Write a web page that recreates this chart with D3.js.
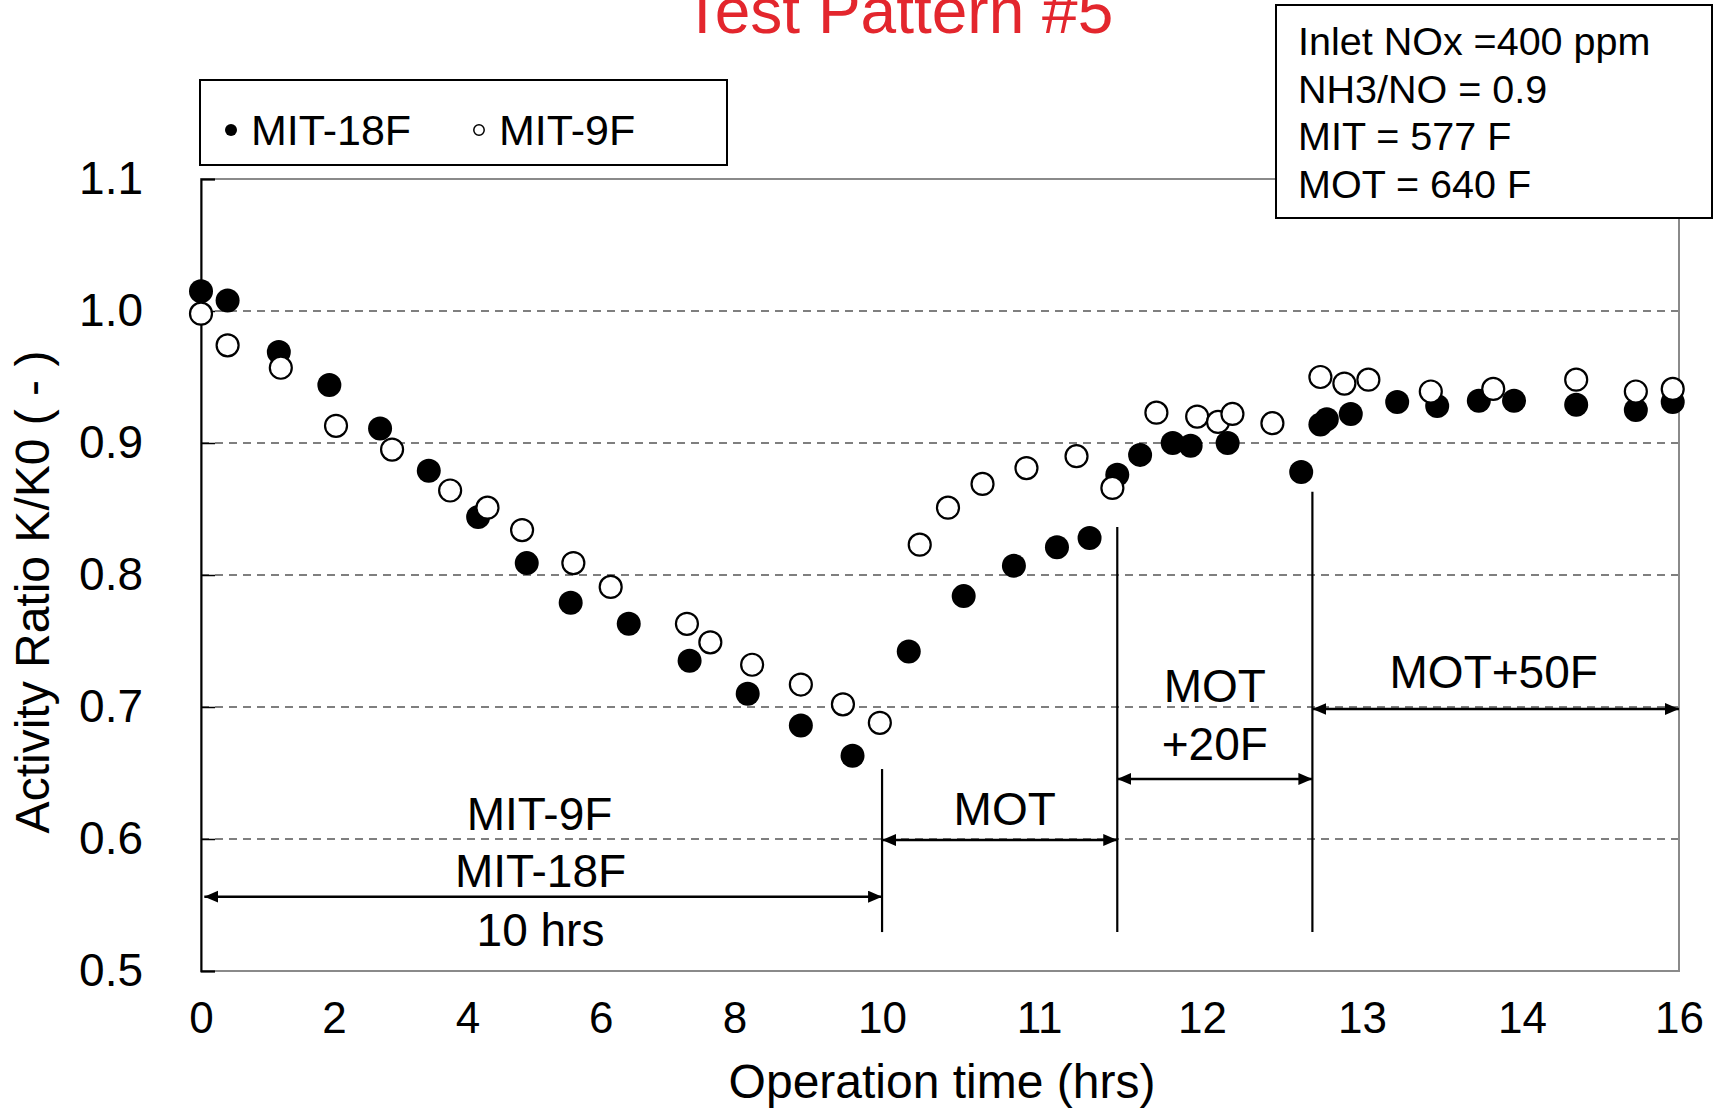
<!DOCTYPE html>
<html lang="en">
<head>
  <meta charset="UTF-8">
  <title>Test Pattern #5</title>
  <script src="https://d3js.org/d3.v7.min.js"></script>
  <style>
    body {
      margin: 0;
      padding: 0;
      background: #fff;
    }
    svg text {
      font-family: "Liberation Sans", Arial, sans-serif;
      fill: #000;
    }
  </style>
</head>
<body>
  <div id="chart"></div>

  <script>
    // MIT-18F (filled circles)
    const hours18 = [0.0, 0.40, 1.17, 1.93, 2.69, 3.42, 4.16, 4.89, 5.55, 6.42, 7.33, 8.18, 8.90, 9.60,
      10.17, 10.52, 10.84, 11.11, 11.31, 11.48, 11.62, 11.82, 11.93, 12.16, 12.62, 12.74, 12.78, 12.93,
      13.22, 13.47, 13.73, 13.95, 14.69, 15.45, 15.92];
    const ratio18 = [1.015, 1.008, 0.969, 0.944, 0.911, 0.879, 0.844, 0.809, 0.779, 0.763, 0.735, 0.710, 0.686, 0.663,
      0.742, 0.784, 0.807, 0.821, 0.828, 0.876, 0.891, 0.900, 0.898, 0.900, 0.878, 0.914, 0.918, 0.922,
      0.931, 0.928, 0.932, 0.932, 0.929, 0.925, 0.931];

    // MIT-9F (open circles)
    const hours9 = [0.0, 0.40, 1.20, 2.03, 2.87, 3.74, 4.30, 4.82, 5.59, 6.15, 7.29, 7.64, 8.24, 8.90, 9.47, 9.97,
      10.24, 10.42, 10.64, 10.92, 11.23, 11.45, 11.72, 11.97, 12.10, 12.19, 12.44, 12.74, 12.89, 13.04,
      13.43, 13.82, 14.69, 15.45, 15.92];
    const ratio9 = [0.998, 0.974, 0.957, 0.913, 0.895, 0.864, 0.851, 0.834, 0.809, 0.791, 0.763, 0.749, 0.732, 0.717, 0.702, 0.688,
      0.823, 0.851, 0.869, 0.881, 0.890, 0.866, 0.923, 0.920, 0.916, 0.922, 0.915, 0.950, 0.945, 0.948,
      0.939, 0.941, 0.948, 0.939, 0.941];

    const xTicks = [0, 2, 4, 6, 8, 10, 11, 12, 13, 14, 16];
    const yTicks = [0.5, 0.6, 0.7, 0.8, 0.9, 1.0, 1.1];
    const gridValues = [0.6, 0.7, 0.8, 0.9, 1.0];

    const phaseBounds = [0, 10, 11.48, 12.69, 16];
    const conditions = ["Inlet NOx =400 ppm", "NH3/NO = 0.9", "MIT = 577 F", "MOT = 640 F"];

    // the hour axis is not uniform: fraction of plot width at each tick
    const xTickFrac = [0, 0.090, 0.1803, 0.2704, 0.3609, 0.4608, 0.567, 0.6773, 0.7855, 0.8938, 1];

    const W = 1724, H = 1108;
    const margin = { top: 179, right: 45, bottom: 137, left: 201 };
    const width = W - margin.left - margin.right;
    const height = H - margin.top - margin.bottom;

    const root = d3.select("#chart").append("svg")
      .attr("width", W)
      .attr("height", H);

    const defs = root.append("defs");
    defs.append("marker")
      .attr("id", "head")
      .attr("markerUnits", "userSpaceOnUse")
      .attr("markerWidth", 16)
      .attr("markerHeight", 14)
      .attr("refX", 14)
      .attr("refY", 6)
      .attr("orient", "auto-start-reverse")
      .append("path")
      .attr("d", "M0,0 L14,6 L0,12 Z")
      .attr("fill", "#000");

    const svg = root.append("g")
      .attr("transform", `translate(${margin.left},${margin.top})`);

    const x = d3.scaleLinear()
      .domain(xTicks)
      .range(xTickFrac.map(f => f * width));

    const y = d3.scaleLinear()
      .domain([0.5, 1.1])
      .range([height, 0]);

    // grid
    svg.selectAll(".grid")
      .data(gridValues)
      .join("line")
      .attr("x1", 0)
      .attr("x2", width)
      .attr("y1", d => y(d))
      .attr("y2", d => y(d))
      .attr("stroke", "#555")
      .attr("stroke-width", 1.3)
      .attr("stroke-dasharray", "8,6");

    // frame
    svg.append("rect")
      .attr("width", width)
      .attr("height", height)
      .attr("fill", "none")
      .attr("stroke", "#8a8a8a")
      .attr("stroke-width", 2);

    // y axis
    const yAxis = svg.append("g")
      .call(d3.axisLeft(y)
        .tickValues(yTicks)
        .tickFormat(d3.format(".1f"))
        .tickSize(-14)
        .tickPadding(58));
    yAxis.select(".domain").attr("stroke", "#000").attr("stroke-width", 2);
    yAxis.selectAll(".tick line").attr("stroke", "#000").attr("stroke-width", 1.5);
    yAxis.selectAll("text").style("font-size", "46px");

    // x axis
    const xAxis = svg.append("g")
      .attr("transform", `translate(0,${height})`)
      .call(d3.axisBottom(x)
        .tickValues(xTicks)
        .tickFormat(d3.format("d"))
        .tickSize(0)
        .tickPadding(31));
    xAxis.select(".domain").remove();
    xAxis.selectAll("text").style("font-size", "44px");

    // axis titles
    root.append("text")
      .attr("x", 942)
      .attr("y", 1098)
      .attr("text-anchor", "middle")
      .style("font-size", "48px")
      .text("Operation time (hrs)");

    root.append("text")
      .attr("transform", "translate(49,592) rotate(-90)")
      .attr("text-anchor", "middle")
      .style("font-size", "48px")
      .text("Activity Ratio K/K0 ( - )");

    // phase boundaries
    const vlines = [
      { h: phaseBounds[1], top: 0.653 },
      { h: phaseBounds[2], top: 0.8364 },
      { h: phaseBounds[3], top: 0.863 }
    ];
    svg.selectAll(".vline")
      .data(vlines)
      .join("line")
      .attr("x1", d => x(d.h))
      .attr("x2", d => x(d.h))
      .attr("y1", d => y(d.top))
      .attr("y2", y(0.5295))
      .attr("stroke", "#000")
      .attr("stroke-width", 2.2);

    // phase arrows
    const arrows = [
      { from: 0.05, to: phaseBounds[1], at: 0.5563 },
      { from: phaseBounds[1], to: phaseBounds[2], at: 0.5992 },
      { from: phaseBounds[2], to: phaseBounds[3], at: 0.6455 },
      { from: phaseBounds[3], to: phaseBounds[4], at: 0.6985 }
    ];
    svg.selectAll(".arrow")
      .data(arrows)
      .join("line")
      .attr("x1", d => x(d.from))
      .attr("x2", d => x(d.to))
      .attr("y1", d => y(d.at))
      .attr("y2", d => y(d.at))
      .attr("stroke", "#000")
      .attr("stroke-width", 2.6)
      .attr("marker-start", "url(#head)")
      .attr("marker-end", "url(#head)");

    // phase labels, centred on each phase span (baseline in data units)
    const mid = i => (x(phaseBounds[i]) + x(phaseBounds[i + 1])) / 2;
    const phaseLabels = [
      { text: "MIT-9F", phase: 0, dx: -2, at: 0.6068 },
      { text: "MIT-18F", phase: 0, dx: -1, at: 0.5636 },
      { text: "10 hrs", phase: 0, dx: -1, at: 0.5189 },
      { text: "MOT", phase: 1, dx: 5, at: 0.6106 },
      { text: "MOT", phase: 2, dx: 0, at: 0.7038 },
      { text: "+20F", phase: 2, dx: 0, at: 0.6598 },
      { text: "MOT+50F", phase: 3, dx: -2, at: 0.7144 }
    ];
    svg.selectAll(".plabel")
      .data(phaseLabels)
      .join("text")
      .attr("x", d => mid(d.phase) + d.dx)
      .attr("y", d => y(d.at))
      .attr("text-anchor", "middle")
      .style("font-size", "46px")
      .text(d => d.text);

    // points
    svg.append("g")
      .selectAll("circle")
      .data(hours18.map((h, i) => [h, ratio18[i]]))
      .join("circle")
      .attr("cx", d => x(d[0]))
      .attr("cy", d => y(d[1]))
      .attr("r", 12)
      .attr("fill", "#000");

    svg.append("g")
      .selectAll("circle")
      .data(hours9.map((h, i) => [h, ratio9[i]]))
      .join("circle")
      .attr("cx", d => x(d[0]))
      .attr("cy", d => y(d[1]))
      .attr("r", 11)
      .attr("fill", "#fff")
      .attr("stroke", "#000")
      .attr("stroke-width", 2.2);

    // title
    root.append("text")
      .attr("x", 898)
      .attr("y", 33)
      .attr("text-anchor", "middle")
      .style("font-size", "64px")
      .style("fill", "#e3262d")
      .text("Test Pattern #5");

    // legend
    const legend = root.append("g");
    legend.append("rect")
      .attr("x", 200).attr("y", 80)
      .attr("width", 527).attr("height", 85)
      .attr("fill", "#fff")
      .attr("stroke", "#000")
      .attr("stroke-width", 2);
    const legendItems = [
      { name: "MIT-18F", filled: true, cx: 231 },
      { name: "MIT-9F", filled: false, cx: 479 }
    ];
    legendItems.forEach(it => {
      legend.append("circle")
        .attr("cx", it.cx).attr("cy", 130)
        .attr("r", it.filled ? 6 : 5.2)
        .attr("fill", it.filled ? "#000" : "#fff")
        .attr("stroke", "#000")
        .attr("stroke-width", it.filled ? 0 : 1.5);
      legend.append("text")
        .attr("x", it.cx + 20).attr("y", 145)
        .style("font-size", "43px")
        .text(it.name);
    });

    // conditions box
    const info = root.append("g");
    info.append("rect")
      .attr("x", 1276).attr("y", 5)
      .attr("width", 436).attr("height", 213)
      .attr("fill", "#fff")
      .attr("stroke", "#000")
      .attr("stroke-width", 2);
    info.selectAll("text")
      .data(conditions)
      .join("text")
      .attr("x", 1298)
      .attr("y", (d, i) => 55 + i * 47.5)
      .style("font-size", "39.5px")
      .text(d => d);
  </script>
</body>
</html>
